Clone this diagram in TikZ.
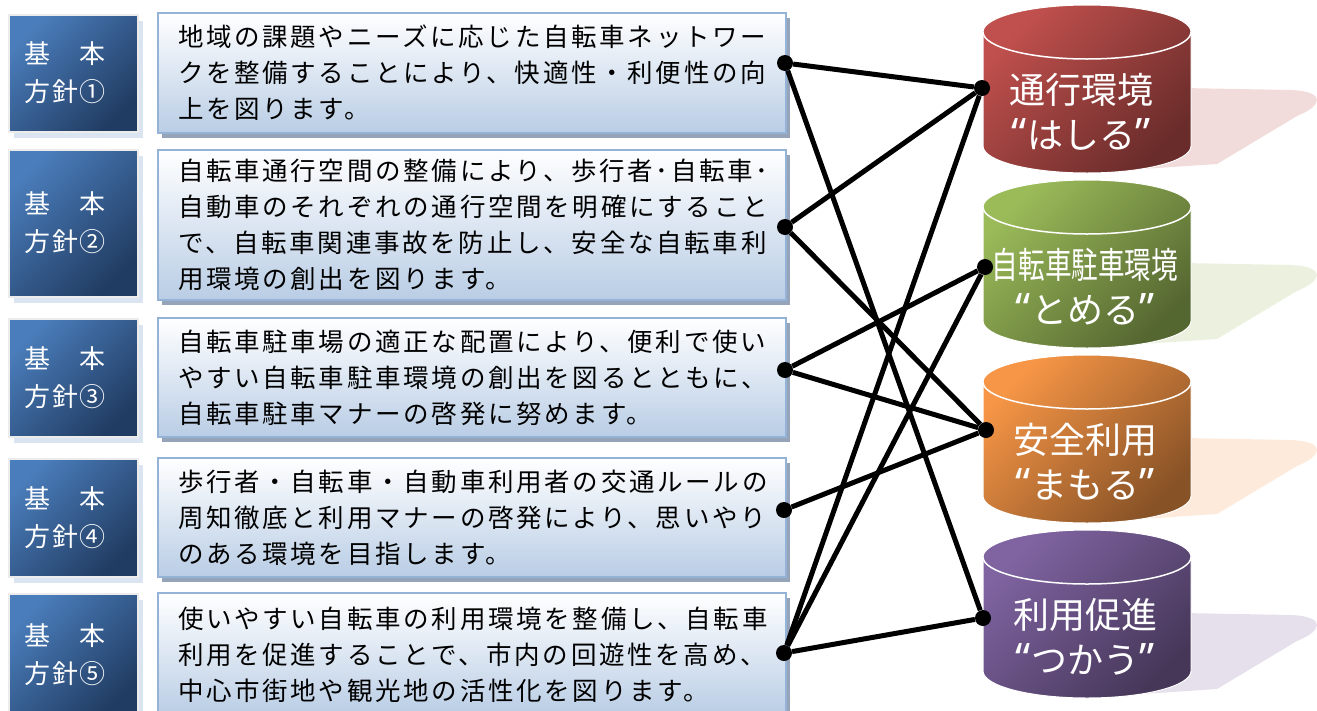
\documentclass[tikz,border=0pt]{standalone}
\usepackage{fontspec}
\setmainfont{Noto Sans CJK JP}
\newfontfamily\quotefont{Noto Sans}
\newfontfamily\panelfont[LetterSpace=10.6]{Noto Sans CJK JP}
\newfontfamily\tilefont[LetterSpace=6]{Noto Sans CJK JP}
\usetikzlibrary{shadows}
\definecolor{policyblue}{RGB}{74,125,187}
\definecolor{policynavy}{RGB}{33,60,98}
\definecolor{tileframe}{RGB}{236,236,236}
\definecolor{tileshadow}{RGB}{219,229,241}
\definecolor{panelblue}{RGB}{185,205,229}
\definecolor{panelline}{RGB}{149,179,215}
\definecolor{panelshadow}{RGB}{150,164,186}
\definecolor{runred}{RGB}{192,80,77}
\definecolor{parkgreen}{RGB}{155,187,89}
\definecolor{safeorange}{RGB}{247,150,70}
\definecolor{usepurple}{RGB}{128,100,162}
\newcommand{\openq}{{\quotefont\fontsize{42}{45}\selectfont “}}
\newcommand{\closeq}{{\quotefont\fontsize{42}{45}\selectfont ”}}

\begin{document}
\begin{tikzpicture}[x=1pt,y=-1pt,
  tile/.style={rectangle,minimum width=129pt,text width=98pt,align=left,text=white,font=\tilefont\fontsize{26}{38}\selectfont,top color=policyblue,bottom color=policynavy,shading angle=45,draw=tileframe,line width=2pt,drop shadow={shadow xshift=5pt,shadow yshift=-6pt,fill=tileshadow,opacity=1}},
  panel/.style={rectangle,minimum width=628pt,text width=588pt,inner xsep=20pt,align=left,font=\panelfont\fontsize{25.5}{36}\selectfont,top color=white,bottom color=panelblue,draw=panelline,line width=2pt,drop shadow={shadow xshift=4pt,shadow yshift=-5pt,fill=panelshadow,opacity=1}},
  drumtext/.style={text=white,align=center,font=\fontsize{36}{45}\selectfont},
  dot/.style={circle,fill=black,inner sep=0pt,minimum size=16pt},
  link/.style={line width=5pt,draw=black}]
  \useasboundingbox (0,0) rectangle (1317,710);
  % basic policies
  \node[tile,minimum height=117pt] (b1) at (73.5,73) {基　本\\方針①};
  \node[tile,minimum height=147pt] (b2) at (73.5,223) {基　本\\方針②};
  \node[tile,minimum height=118pt] (b3) at (73.5,377.5) {基　本\\方針③};
  \node[tile,minimum height=118pt] (b4) at (73.5,517.5) {基　本\\方針④};
  \node[tile,minimum height=122pt] (b5) at (73.5,655) {基　本\\方針⑤};
  \node[panel,minimum height=120pt] (t1) at (472,73) {地域の課題やニーズに応じた自転車ネットワー\\クを整備することにより、快適性・利便性の向\\上を図ります。};
  \node[panel,minimum height=150pt] (t2) at (472,224.5) {自転車通行空間の整備により、歩行者･自転車･\\自動車のそれぞれの通行空間を明確にすること\\で、自転車関連事故を防止し、安全な自転車利\\用環境の創出を図ります。};
  \node[panel,minimum height=119pt] (t3) at (472,377.5) {自転車駐車場の適正な配置により、便利で使い\\やすい自転車駐車環境の創出を図るとともに、\\自転車駐車マナーの啓発に努めます。};
  \node[panel,minimum height=119pt] (t4) at (472,517.5) {歩行者・自転車・自動車利用者の交通ルールの\\周知徹底と利用マナーの啓発により、思いやり\\のある環境を目指します。};
  \node[panel,minimum height=123pt] (t5) at (472,654.5) {使いやすい自転車の利用環境を整備し、自転車\\利用を促進することで、市内の回遊性を高め、\\中心市街地や観光地の活性化を図ります。};
  % drums
  \foreach \t/\col in {32/runred,207/parkgreen,382/safeorange,557/usepurple}{
    \fill[fill=\col!20] (1182,\t+56) -- (1292,\t+58) .. controls (1327,\t+60) and (1322,\t+74) .. (1297,\t+84) -- (1217,\t+132) -- (1127,\t+138) -- cycle;
    \path[draw=white,line width=1pt,top color=\col,bottom color=\col!55!black,shading angle=45] (983,\t) -- (983,\t+114) arc[start angle=180,end angle=360,x radius=104pt,y radius=27pt] -- (1191,\t) arc[start angle=0,end angle=180,x radius=104pt,y radius=27pt] -- cycle;
    \draw[white,line width=1.5pt] (983,\t) arc[start angle=180,end angle=360,x radius=104pt,y radius=27pt];
  }
  \node[drumtext] (c1) at (1081,112) {通行環境\\\openq はしる\closeq};
  \node[drumtext] (c2) at (1085,287) {\scalebox{0.74}[1]{自転車駐車環境}\\\openq とめる\closeq};
  \node[drumtext] (c3) at (1085,462) {安全利用\\\openq まもる\closeq};
  \node[drumtext] (c4) at (1085,637) {利用促進\\\openq つかう\closeq};
  % connection points
  \node[dot] (p1) at (785,63) {}; \node[dot] (p2) at (785,227) {}; \node[dot] (p3) at (785,370) {}; \node[dot] (p4) at (784,510) {}; \node[dot] (p5) at (784,653) {};
  \node[dot] (q1) at (982,88) {}; \node[dot] (q2) at (985,267) {}; \node[dot] (q3) at (986,430) {}; \node[dot] (q4) at (983,618) {};
  \draw[link] (p1)--(q1); \draw[link] (p1)--(q4); \draw[link] (p2)--(q1); \draw[link] (p2)--(q3); \draw[link] (p3)--(q2);
  \draw[link] (p3)--(q3); \draw[link] (p4)--(q3); \draw[link] (p5)--(q1); \draw[link] (p5)--(q2); \draw[link] (p5)--(q4);
\end{tikzpicture}
\end{document}
